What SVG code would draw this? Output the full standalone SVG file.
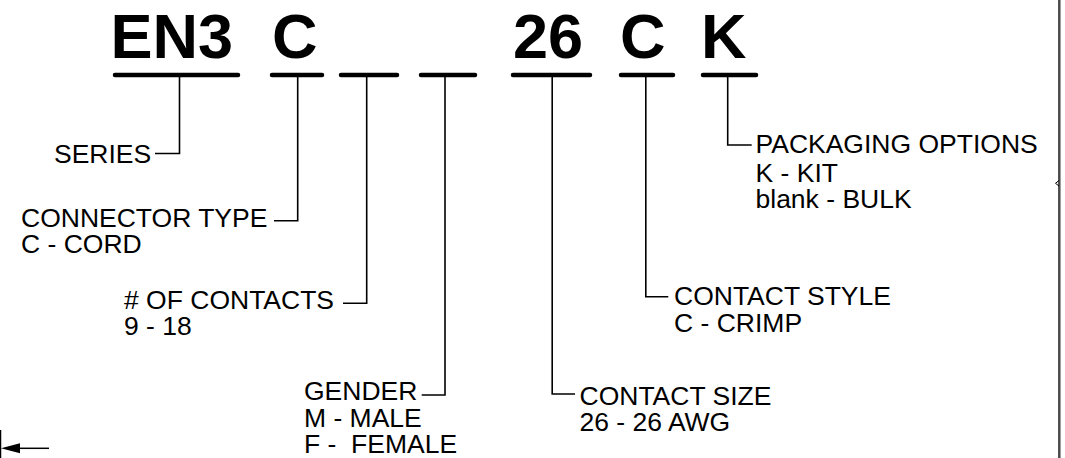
<svg xmlns="http://www.w3.org/2000/svg" width="1065" height="458" viewBox="0 0 1065 458">
<style>
.big{font-family:"Liberation Sans",Arial,sans-serif;font-weight:bold;font-size:63px;fill:#000}
.lbl{font-family:"Liberation Sans",Arial,sans-serif;font-size:26.5px;fill:#000}
.ul{stroke:#000;stroke-width:4.5;stroke-linecap:round;fill:none}
.ld{stroke:#000;stroke-width:1.6;fill:none}
</style>
<rect width="1065" height="458" fill="#fff"/>
<g id="title">
<text class="big" x="110.5" y="58">EN3</text>
<text class="big" x="272" y="58">C</text>
<text class="big" x="513" y="58">26</text>
<text class="big" x="620" y="58">C</text>
<text class="big" x="701" y="58">K</text>
<line class="ul" x1="115" y1="75" x2="238" y2="75"/>
<line class="ul" x1="272" y1="75" x2="322" y2="75"/>
<line class="ul" x1="341" y1="75" x2="397" y2="75"/>
<line class="ul" x1="421" y1="75" x2="475" y2="75"/>
<line class="ul" x1="513" y1="75" x2="590" y2="75"/>
<line class="ul" x1="621" y1="75" x2="673" y2="75"/>
<line class="ul" x1="703" y1="75" x2="756" y2="75"/>
</g>
<g id="connectors">
<polyline class="ld" points="179.5,75 179.5,153.5 155,153.5"/>
<polyline class="ld" points="297.7,75 297.7,220.7 274,220.7"/>
<polyline class="ld" points="366.7,75 366.7,303.3 343,303.3"/>
<polyline class="ld" points="445,75 445,395 421.7,395"/>
<polyline class="ld" points="552.2,75 552.2,394 575,394"/>
<polyline class="ld" points="645.8,75 645.8,296.7 668.3,296.7"/>
<polyline class="ld" points="727.7,75 727.7,145 751.7,145"/>
</g>
<g id="series"><text class="lbl" x="54" y="162.5">SERIES</text></g>
<g id="connector-type"><text class="lbl" x="21" y="226.7">CONNECTOR TYPE</text><text class="lbl" x="21" y="252.7">C - CORD</text></g>
<g id="contacts"><text class="lbl" x="124" y="308.5"># OF CONTACTS</text><text class="lbl" x="124" y="335">9 - 18</text></g>
<g id="gender"><text class="lbl" x="304" y="400">GENDER</text><text class="lbl" x="304" y="426.5">M - MALE</text><text class="lbl" x="304" y="453" xml:space="preserve">F -  FEMALE</text></g>
<g id="contact-size"><text class="lbl" x="579.5" y="405">CONTACT SIZE</text><text class="lbl" x="579.5" y="431">26 - 26 AWG</text></g>
<g id="contact-style"><text class="lbl" x="674" y="305">CONTACT STYLE</text><text class="lbl" x="674" y="331.5">C - CRIMP</text></g>
<g id="packaging"><text class="lbl" x="755.5" y="153.3">PACKAGING OPTIONS</text><text class="lbl" x="755.5" y="181.7">K - KIT</text><text class="lbl" x="755.5" y="208.3">blank - BULK</text></g>
<g id="border">
<line x1="1059.3" y1="0" x2="1059.3" y2="458" stroke="#4a4a4a" stroke-width="2.5"/>
<polyline points="1059,180.5 1055.5,183.3 1059,186" stroke="#000" stroke-width="1" fill="none"/>
<line x1="0.5" y1="430" x2="0.5" y2="458" stroke="#000" stroke-width="1.5"/>
<polygon points="1,448.3 20,443.3 20,453.3" fill="#000"/>
<line x1="20" y1="448.3" x2="49" y2="448.3" stroke="#000" stroke-width="1.5"/>
</g>
</svg>
